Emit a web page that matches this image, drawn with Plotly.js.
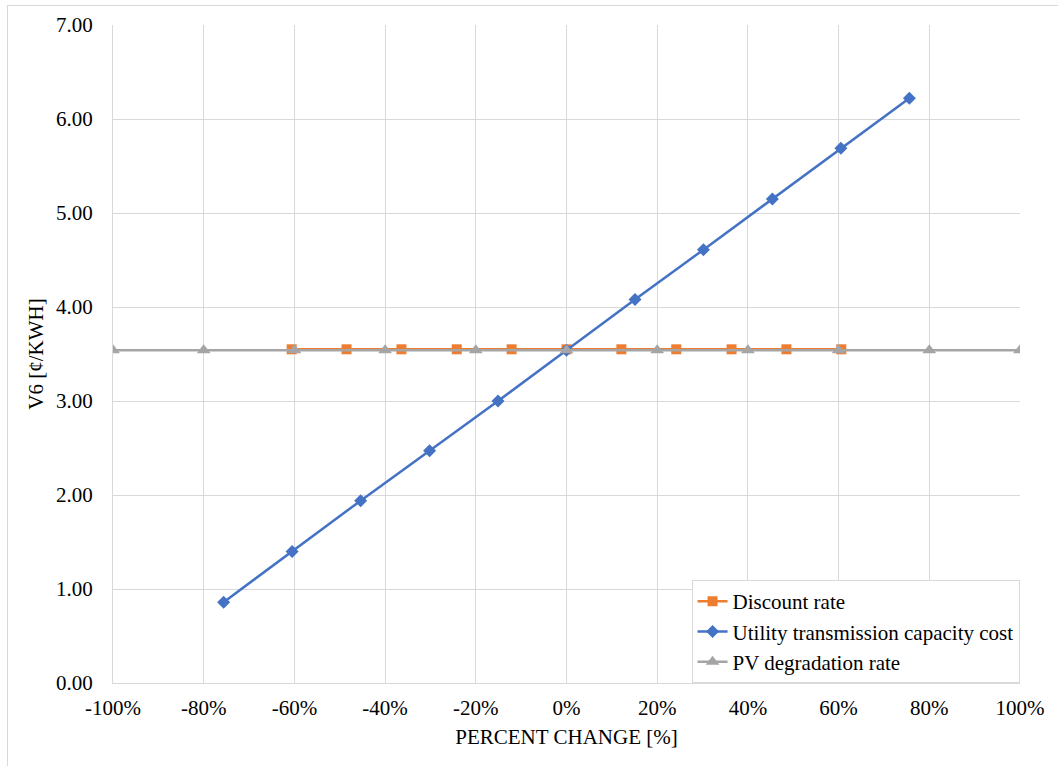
<!DOCTYPE html>
<html>
<head>
<meta charset="utf-8">
<script src="https://cdn.plot.ly/plotly-3.0.1.min.js"></script>
<style>
html,body{margin:0;padding:0;background:#fff;}
#chart{width:1058px;height:766px;position:relative;}
#frame{position:absolute;left:7px;top:5px;width:1060px;height:770px;border-left:1px solid #d9d9d9;border-top:1px solid #d9d9d9;pointer-events:none;}
</style>
</head>
<body>
<div id="chart"></div>
<div id="frame"></div>
<script>
// Data
const discountX = [-60.6, -48.5, -36.4, -24.2, -12.1, 0, 12.1, 24.2, 36.4, 48.5, 60.6];
const discountY = [3.55, 3.55, 3.55, 3.55, 3.55, 3.55, 3.55, 3.55, 3.55, 3.55, 3.55];
const utilityX = [-75.6, -60.5, -45.4, -30.2, -15.1, 0, 15.1, 30.2, 45.4, 60.5, 75.6];
const utilityY = [0.86, 1.40, 1.94, 2.47, 3.00, 3.54, 4.08, 4.61, 5.15, 5.69, 6.22];
const pvX = [-100, -80, -60, -40, -20, 0, 20, 40, 60, 80, 100];
const pvY = [3.54, 3.54, 3.54, 3.54, 3.54, 3.54, 3.54, 3.54, 3.54, 3.54, 3.54];
const xTicks = [-100, -80, -60, -40, -20, 0, 20, 40, 60, 80, 100];
const xTickLabels = ['-100%', '-80%', '-60%', '-40%', '-20%', '0%', '20%', '40%', '60%', '80%', '100%'];
const yTicks = [0, 1, 2, 3, 4, 5, 6, 7];
const yTickLabels = ['0.00', '1.00', '2.00', '3.00', '4.00', '5.00', '6.00', '7.00'];

const font = 'Times New Roman';
const fs = 21;

const traces = [
  {
    x: discountX, y: discountY, name: 'Discount rate', type: 'scatter', mode: 'lines+markers',
    line: {color: '#ED7D31', width: 2.5},
    marker: {symbol: 'square', size: 10, color: '#ED7D31'}
  },
  {
    x: utilityX, y: utilityY, name: 'Utility transmission capacity cost', type: 'scatter', mode: 'lines+markers',
    line: {color: '#4472C4', width: 2.5},
    marker: {symbol: 'diamond', size: 10, color: '#4472C4'}
  },
  {
    x: pvX, y: pvY, name: 'PV degradation rate', type: 'scatter', mode: 'lines+markers',
    line: {color: '#A5A5A5', width: 2.5},
    marker: {symbol: 'triangle-up', size: 12, color: '#A5A5A5'}
  }
];

const layout = {
  width: 1058, height: 766,
  margin: {l: 113, r: 38, t: 25, b: 83},
  paper_bgcolor: '#fff', plot_bgcolor: '#fff',
  showlegend: true,
  font: {family: font, size: fs, color: '#000'},
  xaxis: {
    range: [-100, 100], tickvals: xTicks, ticktext: xTickLabels,
    showgrid: true, gridcolor: '#d9d9d9', gridwidth: 1,
    zeroline: false, showline: true, linecolor: '#d9d9d9', linewidth: 1,
    ticks: '', ticklabelstandoff: 6, tickfont: {family: font, size: fs, color: '#000'},
    title: {text: 'PERCENT CHANGE [%]', font: {family: font, size: fs, color: '#000'}, standoff: 10}
  },
  yaxis: {
    range: [0, 7], tickvals: yTicks, ticktext: yTickLabels,
    showgrid: true, gridcolor: '#d9d9d9', gridwidth: 1,
    zeroline: false, showline: true, linecolor: '#d9d9d9', linewidth: 1,
    ticks: '', ticklabelstandoff: 15, tickfont: {family: font, size: fs, color: '#000'},
    title: {text: 'V6 [¢/KWH]', font: {family: font, size: fs, color: '#000'}, standoff: 6}
  },
  legend: {
    x: 0.9995, xanchor: 'right', y: 0.0, yanchor: 'bottom',
    bgcolor: '#fff', bordercolor: '#d9d9d9', borderwidth: 1,
    font: {family: font, size: fs, color: '#000'},
    itemwidth: 30, tracegroupgap: 0
  }
};

Plotly.newPlot('chart', traces, layout, {displayModeBar: false, staticPlot: true});
</script>
</body>
</html>
